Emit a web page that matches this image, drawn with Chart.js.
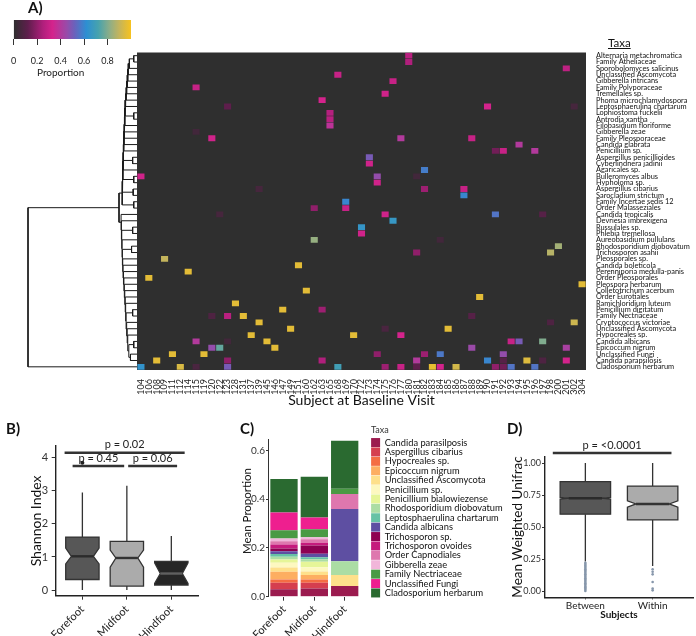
<!DOCTYPE html>
<html>
<head>
<meta charset="utf-8">
<script src="https://cdn.jsdelivr.net/npm/chart.js@4.4.0/dist/chart.umd.min.js"></script>
<style>
  body { margin: 0; width: 696px; height: 636px; position: relative; overflow: hidden; background: #fff; font-family: Lato, "Open Sans", sans-serif; color: #111; }
  canvas { position: absolute; }
  .lbl { position: absolute; white-space: nowrap; z-index: 2; }
  .panel { position: absolute; font-weight: bold; font-size: 15px; z-index: 2; }
  .vtitle { position: absolute; width: 120px; text-align: center; line-height: 14px; transform: rotate(-90deg); white-space: nowrap; }
</style>
</head>
<body>
<canvas id="cbar" width="140" height="56" style="left:0;top:14px"></canvas>
<canvas id="dendro" width="116" height="384" style="left:20.5px;top:40px"></canvas>
<canvas id="heat" width="560" height="384" style="left:136.5px;top:40px"></canvas>
<canvas id="boxB" width="202" height="200" style="left:0;top:436px"></canvas>
<canvas id="barC" width="305" height="210" style="left:200px;top:426px"></canvas>
<canvas id="boxD" width="219" height="200" style="left:478px;top:436px"></canvas>

<div class="panel" style="left:28px;top:-2px">A)</div>
<div class="panel" style="left:6px;top:419px">B)</div>
<div class="panel" style="left:240px;top:419px">C)</div>
<div class="panel" style="left:507px;top:419px">D)</div>
<div class="lbl" style="left:608px;top:36px;font-size:11.5px;text-decoration:underline">Taxa</div>
<div class="lbl" style="left:37px;top:66px;font-size:10px;color:#222">Proportion</div>
<div class="vtitle" style="left:186.7px;top:504px;font-size:11.5px;color:#111">Mean Proportion</div>

<script>
Chart.defaults.font.family = 'Lato, "Open Sans", sans-serif';
Chart.defaults.color = '#222';
Chart.defaults.animation = false;
Chart.defaults.plugins.legend.display = false;
Chart.defaults.plugins.tooltip.enabled = false;

// ---- A) heatmap data ----
const subjects = ['104','106','108','109','111','112','114','115','119','120','122','123','128','131','137','139','145','146','147','149','151','160','162','163','165','168','169','170','172','173','174','175','176','177','180','181','182','183','184','185','186','187','188','189','190','191','192','193','194','195','196','197','198','200','201','302','304'];

const taxa = ['Alternaria metachromatica','Family Atheliaceae','Sporobolomyces salicinus','Unclassified Ascomycota','Gibberella intricans','Family Polyporaceae','Tremellales sp.','Phoma microchlamydospora','Leptosphaerulina chartarum','Lophiostoma fuckelii','Antrodia xantha','Filobasidium floriforme','Gibberella zeae','Family Pleosporaceae','Candida glabrata','Penicillium sp.','Aspergillus penicillioides','Cyberlindnera jadinii','Agaricales sp.','Bulleromyces albus','Hypholoma sp.','Aspergillus cibarius','Sarocladium strictum','Family Incertae sedis 12','Order Malasseziales','Candida tropicalis','Devriesia imbrexigena','Russulales sp.','Phlebia tremellosa','Aureobasidium pullulans','Rhodosporidium diobovatum','Trichosporon asahii','Pleosporales sp.','Candida boleticola','Perenniporia medulla-panis','Order Pleosporales','Pleospora herbarum','Colletotrichum acerbum','Order Eurotiales','Ramichloridium luteum','Penicillium digitatum','Family Nectriaceae','Cryptococcus victoriae','Unclassified Ascomycota','Hypocreales sp.','Candida albicans','Epicoccum nigrum','Unclassified Fungi','Candida parapsilosis','Cladosporium herbarum'];

// [subject index, taxon index, proportion] for non-zero cells
const heatCells = [
  [34,0,0.27],[34,1,0.25],[54,2,0.28],[25,3,0.3],[32,4,0.3],[7,5,0.3],[31,6,0.32],[23,7,0.33],
  [11,8,0.12],[44,8,0.33],[55,8,0.06],[24,9,0.26],[24,10,0.27],[24,11,0.38],[7,12,0.05],
  [9,13,0.32],[33,13,0.4],[42,13,0.3],[48,14,0.4],[45,15,0.15],[46,15,0.3],[50,15,0.4],
  [29,16,0.5],[29,17,0.32],[36,18,0.58],[0,19,0.32],[30,19,0.46],[35,19,0.05],[30,20,0.32],
  [15,21,0.06],[36,21,0.22],[41,21,0.3],[41,22,0.6],[26,23,0.6],[22,24,0.2],[26,24,0.3],
  [10,25,0.06],[31,25,0.32],[45,25,0.56],[51,25,0.1],[32,26,0.66],[28,27,0.65],[28,28,0.32],
  [22,29,0.83],[38,29,0.05],[53,30,0.85],[52,31,0.88],[35,31,0.2],[3,32,0.9],[20,33,0.96],
  [6,34,0.96],[1,35,0.96],[56,36,0.96],[21,37,0.96],[43,38,0.96],[12,39,0.96],[18,40,0.96],
  [23,40,0.22],[9,41,0.08],[11,41,0.27],[13,41,0.96],[42,41,0.1],[15,42,0.96],[52,42,0.08],
  [55,42,0.92],[19,43,0.96],[31,43,0.07],[39,43,0.96],[14,44,0.96],[27,44,0.96],[33,44,0.33],
  [7,45,0.4],[11,45,0.05],[16,45,0.96],[47,45,0.3],[48,45,0.5],[51,45,0.8],
  [9,46,0.46],[10,46,0.76],[17,46,0.96],[42,46,0.45],[54,46,0.42],
  [4,47,0.96],[8,47,0.96],[30,47,0.2],[36,47,0.22],[38,47,0.57],[46,47,0.46],
  [2,48,0.96],[11,48,0.2],[23,48,0.25],[35,48,0.4],[44,48,0.6],[46,48,0.1],[49,48,0.95],[51,48,0.08],[54,48,0.33],
  [0,49,0.64],[5,49,0.94],[7,49,0.07],[11,49,0.5],[25,49,0.7],[31,49,0.22],[33,49,0.3],[35,49,0.12],
  [37,49,0.97],[38,49,0.33],[40,49,0.93],[45,49,0.2],[46,49,0.15],[47,49,0.56],[50,49,0.56]
];

// dendrogram merges: [node a, node b, height]; leaves are 0..49, new nodes numbered from 50
const dendroMerges = [
  [0,1,0.03],[9,10,0.03],[16,17,0.04],[19,20,0.03],[21,22,0.035],[23,24,0.03],[27,28,0.04],[45,46,0.03],[30,31,0.05],[40,41,0.04],
  [50,2,0.07],[60,3,0.08],[61,4,0.085],[62,5,0.09],[63,6,0.095],[64,7,0.1],[65,8,0.105],[66,51,0.11],[67,11,0.112],
  [68,12,0.115],[69,13,0.118],[70,14,0.12],[71,15,0.122],[72,52,0.125],[73,18,0.128],[74,53,0.13],[75,54,0.133],[76,55,0.136],
  [47,48,0.06],[78,57,0.075],[79,44,0.085],[80,43,0.09],[81,42,0.095],[82,59,0.1],[83,39,0.104],[84,38,0.108],[85,37,0.112],
  [86,36,0.116],[87,35,0.12],[88,34,0.124],[89,33,0.128],[90,32,0.131],[91,58,0.134],[92,29,0.137],[93,56,0.14],[94,26,0.143],[95,25,0.146],
  [77,96,0.165],[97,49,1.0]
];

const colorbarTicks = [0, 0.2, 0.4, 0.6, 0.8];

// ---- B) Shannon index ----
const shannonGroups = ['Forefoot', 'Midfoot', 'Hindfoot'];
// [lower whisker, q1, median, q3, upper whisker, notch low, notch high]
const shannonBox = [
  [0, 0.32, 1.02, 1.6, 2.95, 0.79, 1.27],
  [0, 0.12, 0.97, 1.47, 3.15, 0.69, 1.21],
  [0, 0.15, 0.5, 0.87, 1.63, 0.2, 0.82]
];
const shannonOutliers = [{ x: 1, y: 3.85 }];
const shannonTests = [[0.6, 3.3, 4.15, 'p = 0.02'], [0.78, 1.94, 3.75, 'p = 0.45'], [2.03, 3.13, 3.75, 'p = 0.06']];

// ---- C) mean proportion ----
const regions = ['Forefoot', 'Midfoot', 'Hindfoot'];
const topTaxa = ['Candida parasilposis','Aspergillus cibarius','Hypocreales sp.','Epicoccum nigrum','Unclassified Ascomycota','Penicillium sp.','Penicillium bialowiezense','Rhodosporidium diobovatum','Leptosphaerulina chartarum','Candida albicans','Trichosporon sp.','Trichosporon ovoides','Order Capnodiales','Gibberella zeae','Family Nectriaceae','Unclassified Fungi','Cladosporium herbarum'];
const meanForefoot = [0.031,0.026,0.014,0.031,0.018,0.019,0.014,0.011,0.011,0.012,0.011,0.016,0.014,0.011,0.034,0.073,0.137];
const meanMidfoot  = [0.034,0.023,0.014,0.018,0.014,0.018,0.023,0.010,0.008,0.014,0.034,0.010,0.016,0.008,0.033,0.048,0.167];
const meanHindfoot = [0.044,0,0,0,0.045,0,0,0.057,0,0.214,0,0,0.062,0,0.021,0,0.197];
const taxaColors = ['#9b1b4f','#d53e4f','#f46d43','#fdae61','#fee08b','#fdf8c0','#e6f598','#abdda4','#66c2a5','#5e4fa2','#8e0152','#c51b7d','#de77ae','#f1b6da','#4a9a44','#ee1f8f','#2a6a30'];

// ---- D) weighted unifrac ----
const unifracGroups = ['Between', 'Within'];
const unifracBox = [
  [0.23, 0.6, 0.725, 0.855, 1.0, 0.718, 0.732],
  [0.195, 0.555, 0.68, 0.82, 1.0, 0.655, 0.705]
];
const unifracOutBetween = [0.22,0.21,0.2,0.19,0.18,0.17,0.16,0.15,0.14,0.13,0.12,0.11,0.1,0.09,0.08,0.07,0.06,0.05,0.04,0.03,0.02,0.01,0.0];
const unifracOutWithin = [0.17,0.15,0.13,0.07,0.02,0.005];
const unifracTests = [[0.516, 2.28, 1.078, 'p = <0.0001']];

// ---- helpers ----
const cmapStops = [[0,'#2e2e2e'],[0.12,'#5e1e4c'],[0.25,'#b01f7c'],[0.33,'#d4238c'],[0.45,'#9a4aa8'],[0.52,'#6a62bc'],[0.62,'#2d8fd2'],[0.72,'#46a2ae'],[0.82,'#8fae86'],[0.9,'#c4b45c'],[1,'#f7c21f']];

function hexRgb(h) {
  return [parseInt(h.slice(1, 3), 16), parseInt(h.slice(3, 5), 16), parseInt(h.slice(5, 7), 16)];
}

function proportionColor(v) {
  for (let i = 1; i < cmapStops.length; i++) {
    const [p1, c1] = cmapStops[i];
    if (v <= p1) {
      const [p0, c0] = cmapStops[i - 1];
      const t = (v - p0) / (p1 - p0);
      const a = hexRgb(c0), b = hexRgb(c1);
      return `rgb(${a.map((x, k) => Math.round(x + (b[k] - x) * t)).join(',')})`;
    }
  }
  return cmapStops[cmapStops.length - 1][1];
}

const fixWidth = w => scale => { scale.width = w; };
const fixHeight = h => scale => { scale.height = h; };
const fixedTicks = vals => scale => { scale.ticks = vals.map(v => ({ value: v })); };

// elbow segments of the dendrogram, separated by empty points so the line breaks
function dendroSegments() {
  const pos = taxa.map((t, i) => i);
  const hgt = taxa.map(() => 0);
  const pts = [];
  dendroMerges.forEach(([a, b, h]) => {
    pts.push({ x: hgt[a], y: pos[a] }, { x: h, y: pos[a] }, { x: h, y: pos[b] }, { x: hgt[b], y: pos[b] }, { x: null, y: null });
    pos.push((pos[a] + pos[b]) / 2);
    hgt.push(h);
  });
  return pts;
}

function boxPlugin(stats, fills, medians, tests) {
  return {
    id: 'notchedBoxes',
    beforeDatasetsDraw(chart) {
      const { ctx, scales: { x, y } } = chart;
      const Y = v => y.getPixelForValue(v);
      stats.forEach(([lo, q1, med, q3, hi, nlo, nhi], i) => {
        const cx = x.getPixelForValue(i + 1);
        const hw = x.getPixelForValue(i + 1.375) - cx;
        const nw = hw * 0.66;
        ctx.save();
        ctx.strokeStyle = '#333';
        ctx.lineWidth = 1.3;
        ctx.beginPath();
        ctx.moveTo(cx, Y(hi)); ctx.lineTo(cx, Y(q3));
        ctx.moveTo(cx, Y(q1)); ctx.lineTo(cx, Y(lo));
        ctx.stroke();
        ctx.beginPath();
        ctx.moveTo(cx - hw, Y(q1)); ctx.lineTo(cx + hw, Y(q1));
        ctx.lineTo(cx + hw, Y(nlo)); ctx.lineTo(cx + nw, Y(med)); ctx.lineTo(cx + hw, Y(nhi));
        ctx.lineTo(cx + hw, Y(q3)); ctx.lineTo(cx - hw, Y(q3));
        ctx.lineTo(cx - hw, Y(nhi)); ctx.lineTo(cx - nw, Y(med)); ctx.lineTo(cx - hw, Y(nlo));
        ctx.closePath();
        ctx.fillStyle = fills[i];
        ctx.fill();
        ctx.stroke();
        ctx.beginPath();
        ctx.moveTo(cx - nw, Y(med)); ctx.lineTo(cx + nw, Y(med));
        ctx.lineWidth = 2.4;
        ctx.strokeStyle = medians[i];
        ctx.stroke();
        ctx.restore();
      });
    },
    afterDraw(chart) {
      const { ctx, scales: { x, y } } = chart;
      ctx.save();
      tests.forEach(([x1, x2, v, label]) => {
        const py = y.getPixelForValue(v);
        const px1 = x.getPixelForValue(x1), px2 = x.getPixelForValue(x2);
        ctx.strokeStyle = '#333';
        ctx.lineWidth = 2.4;
        ctx.beginPath(); ctx.moveTo(px1, py); ctx.lineTo(px2, py); ctx.stroke();
        ctx.fillStyle = '#222';
        ctx.font = '11px Lato, "Open Sans", sans-serif';
        ctx.textAlign = 'center';
        ctx.textBaseline = 'bottom';
        ctx.fillText(label, (px1 + px2) / 2, py - 2.5);
      });
      ctx.restore();
    }
  };
}

// ---- colour bar ----
new Chart(document.getElementById('cbar'), {
  type: 'bar',
  data: {
    labels: [''],
    datasets: [{
      data: [[0, 1]],
      backgroundColor: ctx => {
        const a = ctx.chart.chartArea;
        if (!a) return '#000';
        const g = ctx.chart.ctx.createLinearGradient(a.left, 0, a.right, 0);
        cmapStops.forEach(([p, c]) => g.addColorStop(p, c));
        return g;
      },
      barPercentage: 1,
      categoryPercentage: 1
    }]
  },
  options: {
    responsive: false,
    indexAxis: 'y',
    layout: { padding: { left: 3, right: 9, top: 6 } },
    scales: {
      y: { display: false },
      x: {
        type: 'linear', min: 0, max: 1,
        afterBuildTicks: fixedTicks(colorbarTicks),
        grid: { drawOnChartArea: false, tickLength: 6, color: '#333' },
        border: { display: false },
        ticks: { font: { size: 9 }, padding: 11, color: '#222', callback: v => v === 0 ? '0' : v.toFixed(1) },
        afterFit: fixHeight(31)
      }
    }
  }
});

// ---- dendrogram ----
new Chart(document.getElementById('dendro'), {
  type: 'scatter',
  data: {
    datasets: [{ data: dendroSegments(), showLine: true, spanGaps: false, pointRadius: 0, borderColor: '#1a1a1a', borderWidth: 1, clip: false }]
  },
  options: {
    responsive: false,
    layout: { padding: { left: 7, top: 12.5, bottom: 54, right: 0 } },
    scales: {
      x: { type: 'linear', display: false, reverse: true, min: 0, max: 1 },
      y: { type: 'linear', display: false, reverse: true, min: -0.5, max: 49.5 }
    }
  }
});

// ---- heatmap ----
const heatBackground = {
  id: 'heatBackground',
  beforeDatasetsDraw(chart) {
    const { ctx, chartArea: a } = chart;
    ctx.save();
    ctx.fillStyle = '#2f2f2f';
    ctx.fillRect(a.left, a.top, a.width, a.height);
    ctx.restore();
  }
};

new Chart(document.getElementById('heat'), {
  type: 'bar',
  data: {
    labels: subjects,
    datasets: [{
      data: heatCells.map(([c, r]) => ({ x: subjects[c], y: [r - 0.46, r + 0.46] })),
      backgroundColor: ctx => ctx.type === 'data' ? proportionColor(heatCells[ctx.dataIndex][2]) : '#2f2f2f',
      barPercentage: 0.9,
      categoryPercentage: 1,
      borderWidth: 0
    }]
  },
  options: {
    responsive: false,
    layout: { padding: { top: 12.5 } },
    scales: {
      x: {
        grid: { display: false },
        border: { display: false },
        ticks: { font: { size: 9 }, minRotation: 90, maxRotation: 90, autoSkip: false, padding: 1, color: '#222' },
        title: { display: true, text: 'Subject at Baseline Visit', font: { size: 14 }, color: '#111', padding: { top: 0, bottom: 15 } },
        afterFit: fixHeight(54)
      },
      y: {
        type: 'linear', position: 'right', reverse: true, min: -0.5, max: 49.5,
        grid: { display: false },
        border: { display: false },
        afterBuildTicks: fixedTicks(taxa.map((t, i) => i)),
        ticks: { autoSkip: false, font: { size: 7.4 }, padding: 2, color: '#111', callback: v => taxa[v] },
        afterFit: fixWidth(111)
      }
    }
  },
  plugins: [heatBackground]
});

// ---- B) Shannon boxplot ----
new Chart(document.getElementById('boxB'), {
  type: 'scatter',
  data: {
    datasets: [{ data: shannonOutliers, pointRadius: 2, backgroundColor: '#222', borderWidth: 0 }]
  },
  options: {
    responsive: false,
    layout: { padding: { top: 10, right: 1.8 } },
    scales: {
      x: {
        type: 'linear', min: 0.4, max: 3.6,
        afterBuildTicks: fixedTicks([1, 2, 3]),
        grid: { drawOnChartArea: false, tickLength: 4, color: '#333' },
        border: { color: '#222', width: 1.4 },
        ticks: { font: { size: 11 }, minRotation: 45, maxRotation: 45, autoSkip: false, padding: 3, color: '#222', callback: v => shannonGroups[v - 1] },
        afterFit: fixHeight(40.3)
      },
      y: {
        type: 'linear', min: -0.17, max: 4.35,
        afterBuildTicks: fixedTicks([0, 1, 2, 3, 4]),
        grid: { drawOnChartArea: false, tickLength: 4, color: '#333' },
        border: { color: '#222', width: 1.4 },
        ticks: { font: { size: 11 }, padding: 3.5, color: '#333' },
        title: { display: true, text: 'Shannon Index', font: { size: 14 }, color: '#111', padding: { top: 28, bottom: 0 } },
        afterFit: fixWidth(55.7)
      }
    }
  },
  plugins: [boxPlugin(shannonBox, ['#575757', '#ababab', '#262626'], ['#2b2b2b', '#333333', '#606060'], shannonTests)]
});

// ---- C) stacked mean proportion ----
new Chart(document.getElementById('barC'), {
  type: 'bar',
  data: {
    datasets: topTaxa.map((t, i) => ({
      label: t,
      data: [meanForefoot[i], meanMidfoot[i], meanHindfoot[i]].map((v, k) => ({ x: k + 1, y: v })),
      backgroundColor: taxaColors[i],
      borderWidth: 0,
      barPercentage: 0.9,
      categoryPercentage: 1
    }))
  },
  options: {
    responsive: false,
    plugins: {
      // empty, non-full-width title: pushes the plot area down while the legend starts at the top
      title: { display: true, text: ' ', fullSize: false, font: { size: 1 }, padding: { top: 0, bottom: 12.4 } },
      legend: {
        display: true,
        position: 'right',
        align: 'start',
        maxWidth: 134,
        title: { display: true, text: 'Taxa', position: 'start', color: '#333', font: { size: 9 }, padding: { top: 0, bottom: 1 } },
        labels: { boxWidth: 9, boxHeight: 9, padding: 0.1, color: '#111', font: { size: 9.3 } }
      }
    },
    scales: {
      x: {
        type: 'linear', stacked: true, offset: false, min: 0.473, max: 3.867,
        afterBuildTicks: fixedTicks([1, 2, 3]),
        grid: { drawOnChartArea: false, offset: false, tickLength: 4, color: '#333' },
        border: { display: false },
        ticks: { font: { size: 11 }, minRotation: 45, maxRotation: 45, autoSkip: false, padding: 2, color: '#222', callback: v => regions[v - 1] },
        afterFit: fixHeight(39.3)
      },
      y: {
        stacked: true, min: 0, max: 0.645,
        afterBuildTicks: fixedTicks([0, 0.2, 0.4, 0.6]),
        grid: { drawOnChartArea: false, tickLength: 2, color: '#333' },
        border: { color: '#333', width: 1 },
        ticks: { font: { size: 10 }, padding: 1, color: '#333', callback: v => v.toFixed(1) },
        afterFit: fixWidth(68)
      }
    }
  }
});

// ---- D) weighted unifrac ----
new Chart(document.getElementById('boxD'), {
  type: 'scatter',
  data: {
    datasets: [
      { data: unifracOutBetween.map(v => ({ x: 1, y: v })), pointRadius: 1.3, backgroundColor: '#8797ab', borderWidth: 0 },
      { data: unifracOutWithin.map(v => ({ x: 2, y: v })), pointRadius: 1.3, backgroundColor: '#8797ab', borderWidth: 0 }
    ]
  },
  options: {
    responsive: false,
    layout: { padding: { top: 20.6, right: 0.6 } },
    scales: {
      x: {
        type: 'linear', min: 0.4, max: 2.6,
        afterBuildTicks: fixedTicks([1, 2]),
        grid: { drawOnChartArea: false, tickLength: 2, color: '#333' },
        border: { color: '#222', width: 1.4 },
        ticks: { font: { size: 10 }, padding: 0, color: '#222', callback: v => unifracGroups[v - 1] },
        title: { display: true, text: 'Subjects', font: { size: 10, weight: 'bold' }, color: '#111', padding: { top: 0, bottom: 15.7 } },
        afterFit: fixHeight(38.6)
      },
      y: {
        type: 'linear', min: -0.05, max: 1.05,
        afterBuildTicks: fixedTicks([0, 0.25, 0.5, 0.75, 1]),
        grid: { drawOnChartArea: false, tickLength: 3, color: '#333' },
        border: { color: '#222', width: 1.4 },
        ticks: { font: { size: 9 }, padding: 1, color: '#333', callback: v => v.toFixed(2) },
        title: { display: true, text: 'Mean Weighted Unifrac', font: { size: 13.5 }, color: '#111', padding: { top: 31.8, bottom: 0 } },
        afterFit: fixWidth(67)
      }
    }
  },
  plugins: [boxPlugin(unifracBox, ['#575757', '#ababab'], ['#2b2b2b', '#333333'], unifracTests)]
});
</script>
</body>
</html>
